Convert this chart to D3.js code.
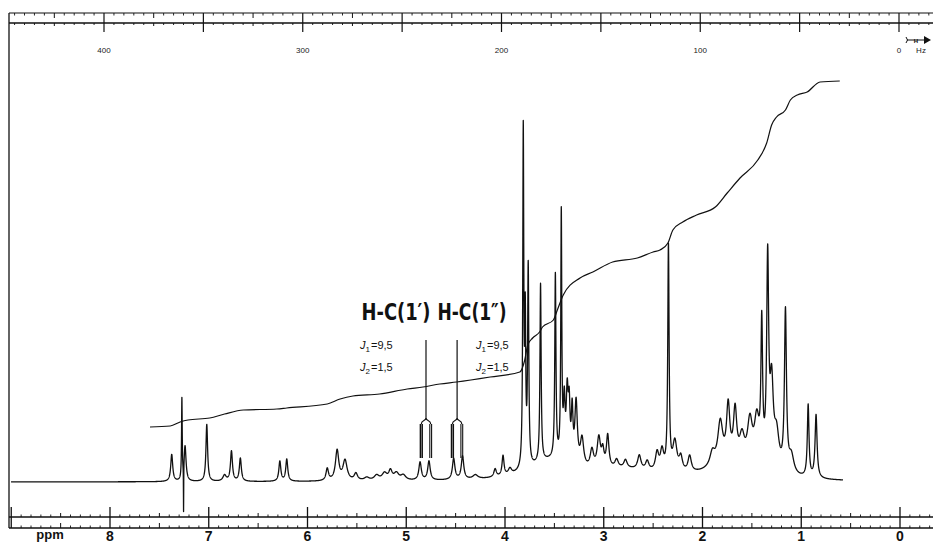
<!DOCTYPE html>
<html>
<head>
<meta charset="utf-8">
<script src="https://cdn.jsdelivr.net/npm/d3@7"></script>
<style>
  html, body { margin: 0; padding: 0; background: #fff; }
  svg { display: block; }
</style>
</head>
<body>
<svg id="chart" width="933" height="543"></svg>
<script>
// ---------------- DATA ----------------
const ppmTicks = [8, 7, 6, 5, 4, 3, 2, 1, 0];
const ppmTickLabels = ["8", "7", "6", "5", "4", "3", "2", "1", "0"];
const hzTicks = [400, 300, 200, 100, 0];
const hzTickLabels = ["400", "300", "200", "100", "0"];

// peak table: position (ppm), height (arb. units), half width (ppm)
const peakPpm = [7.375, 7.272, 7.24, 7.255, 7.02, 6.84, 6.77, 6.68, 6.28, 6.21,
  5.80, 5.70, 5.62, 5.51, 5.40, 5.30, 5.22, 5.16, 5.10, 5.03,
  4.86, 4.77, 4.52, 4.43, 4.30, 4.10, 4.02, 3.95,
  3.815, 3.795, 3.765, 3.64, 3.49, 3.43, 3.40, 3.37, 3.35, 3.32, 3.28, 3.22,
  3.12, 3.05, 3.01, 2.96, 2.87, 2.78, 2.64, 2.56, 2.46, 2.41,
  2.345, 2.28, 2.22, 2.13, 1.90, 1.82, 1.74, 1.67, 1.60, 1.52, 1.45,
  1.40, 1.34, 1.30, 1.25, 1.16, 1.10, 0.93, 0.85,
  3.55, 2.80, 1.70];
const peakHeight = [27, 80, 35, -48, 57, 6, 30, 23, 20, 22,
  12, 30, 20, 7, 3, 5, 7, 9, 7, 5,
  18, 19, 21, 23, 4, 8, 20, 6,
  335, 140, 198, 178, 184, 244, 55, 65, 50, 50, 62, 28,
  18, 30, 16, 32, 8, 8, 14, 9, 18, 20,
  224, 30, 14, 16, 14, 42, 55, 50, 25, 42, 45,
  135, 202, 80, 35, 160, 18, 72, 63,
  18, 10, 14];
const peakWidth = [0.012, 0.004, 0.012, 0.0015, 0.01, 0.02, 0.012, 0.012, 0.012, 0.012,
  0.015, 0.02, 0.025, 0.02, 0.03, 0.03, 0.03, 0.02, 0.03, 0.03,
  0.015, 0.015, 0.015, 0.015, 0.03, 0.015, 0.012, 0.02,
  0.006, 0.006, 0.007, 0.007, 0.007, 0.006, 0.01, 0.012, 0.01, 0.01, 0.015, 0.02,
  0.02, 0.02, 0.015, 0.015, 0.02, 0.02, 0.02, 0.02, 0.02, 0.02,
  0.008, 0.025, 0.02, 0.02, 0.03, 0.03, 0.02, 0.02, 0.03, 0.03, 0.03,
  0.01, 0.012, 0.02, 0.03, 0.012, 0.03, 0.01, 0.012,
  0.25, 0.4, 0.3];

// integral trace
const integralPpm = [7.595, 7.39, 7.29, 7.21, 6.99, 6.84, 6.65, 6.31, 6.21, 5.80, 5.67, 5.54, 5.27,
  4.99, 4.83, 4.66, 4.49, 4.15, 3.85, 3.80, 3.77, 3.72, 3.65, 3.62, 3.51, 3.47, 3.41,
  3.24, 3.11, 2.91, 2.66, 2.50, 2.43, 2.35, 2.30, 2.20, 2.06, 1.87, 1.75, 1.62, 1.44,
  1.35, 1.30, 1.25, 1.16, 1.11, 1.04, 0.94, 0.81, 0.61];
const integralValue = [55, 56, 60, 62, 64, 68, 72, 73, 74, 78, 83, 86, 88,
  93, 95, 98, 100, 105, 110, 122, 137, 144, 150, 155, 162, 172, 187,
  204, 210, 220, 224, 230, 232, 239, 252, 260, 267, 275, 289, 304, 322,
  339, 357, 365, 372, 382, 387, 390, 400, 401];

// annotations
const multipletLabels = ["H-C(1\u2032)", "H-C(1\u2033)"];
const multipletPpm = [4.80, 4.485];
const couplingJ1 = [9.5, 9.5];
const couplingJ2 = [1.5, 1.5];
const couplingJ1Text = ["9,5", "9,5"];
const couplingJ2Text = ["1,5", "1,5"];

// ---------------- SCALES ----------------
const svg = d3.select("#chart");
const W = 933, H = 543;
const x = d3.scaleLinear().domain([0, 8]).range([900, 110]);
const xHz = d3.scaleLinear().domain([0, 400]).range([899, 104]);
const y = d3.scaleLinear().domain([0, 400]).range([482, 82]);

svg.append("rect").attr("width", W).attr("height", H).attr("fill", "#fff");

const ink = "#111";

// ---------------- FRAME / AXES ----------------
const leftX = 9;
svg.append("line").attr("x1", leftX).attr("x2", leftX).attr("y1", 13).attr("y2", 528)
  .attr("stroke", ink).attr("stroke-width", 1.3);

[13, 23].forEach(yy => svg.append("line").attr("x1", leftX).attr("x2", W).attr("y1", yy).attr("y2", yy)
  .attr("stroke", ink).attr("stroke-width", yy === 23 ? 1.6 : 1.2));
[517, 528].forEach(yy => svg.append("line").attr("x1", leftX).attr("x2", W).attr("y1", yy).attr("y2", yy)
  .attr("stroke", ink).attr("stroke-width", 1.3));

// Hz ticks every 5 Hz
const hzAll = d3.range(-20, 461, 5);
const gHz = svg.append("g").attr("stroke", ink);
hzAll.forEach(h => {
  const xx = xHz(h);
  if (xx < leftX || xx > W) return;
  if (h % 50 === 0) {
    gHz.append("line").attr("x1", xx).attr("x2", xx).attr("y1", 13).attr("y2", 32).attr("stroke-width", 1.2);
  } else if (h % 25 === 0) {
    gHz.append("line").attr("x1", xx).attr("x2", xx).attr("y1", 13).attr("y2", 18).attr("stroke-width", 1);
    gHz.append("line").attr("x1", xx).attr("x2", xx).attr("y1", 23).attr("y2", 26).attr("stroke-width", 1);
  } else {
    gHz.append("line").attr("x1", xx).attr("x2", xx).attr("y1", 13).attr("y2", 15.5).attr("stroke-width", 0.9);
    gHz.append("line").attr("x1", xx).attr("x2", xx).attr("y1", 23).attr("y2", 25).attr("stroke-width", 0.9);
  }
});
svg.append("g").selectAll("text").data(hzTicks).join("text")
  .attr("x", d => xHz(d)).attr("y", 53)
  .attr("text-anchor", "middle")
  .attr("font-family", "'Liberation Sans', Arial, sans-serif")
  .attr("font-size", 8).attr("fill", "#222")
  .text((d, i) => hzTickLabels[i]);
svg.append("text").attr("x", 921).attr("y", 53).attr("text-anchor", "middle")
  .attr("font-family", "'Liberation Sans', Arial, sans-serif").attr("font-size", 8).attr("fill", "#222").text("Hz");
// field sweep arrow
svg.append("path").attr("d", "M906,37 Q909,40 906,43 M907,40 H927").attr("fill", "none").attr("stroke", ink).attr("stroke-width", 1);
svg.append("path").attr("d", "M924,36 L931,40 L924,44 Z").attr("fill", ink);
svg.append("text").attr("x", 916).attr("y", 42.5).attr("text-anchor", "middle")
  .attr("font-family", "'Liberation Sans', Arial, sans-serif").attr("font-size", 6).attr("font-weight", "bold").attr("fill", ink).text("H");

// ppm ticks every 0.1
const ppmAll = d3.range(-3, 91).map(i => i / 10);
const gP = svg.append("g").attr("stroke", ink);
ppmAll.forEach(p => {
  const xx = x(p);
  if (xx < leftX || xx > W) return;
  const k = Math.round(p * 10);
  if (k % 10 === 0) {
    gP.append("line").attr("x1", xx).attr("x2", xx).attr("y1", 507).attr("y2", 528).attr("stroke-width", 1.3);
  } else if (k % 5 === 0) {
    gP.append("line").attr("x1", xx).attr("x2", xx).attr("y1", 513).attr("y2", 517).attr("stroke-width", 1);
    gP.append("line").attr("x1", xx).attr("x2", xx).attr("y1", 523).attr("y2", 528).attr("stroke-width", 1);
  } else {
    gP.append("line").attr("x1", xx).attr("x2", xx).attr("y1", 514.5).attr("y2", 517).attr("stroke-width", 0.9);
    gP.append("line").attr("x1", xx).attr("x2", xx).attr("y1", 525.5).attr("y2", 528).attr("stroke-width", 0.9);
  }
});
svg.append("g").selectAll("text").data(ppmTicks).join("text")
  .attr("x", d => x(d)).attr("y", 540.5)
  .attr("text-anchor", "middle")
  .attr("font-family", "'Liberation Sans', Arial, sans-serif")
  .attr("font-weight", "bold").attr("font-size", 14).attr("fill", ink)
  .text((d, i) => ppmTickLabels[i]);
svg.append("text").attr("x", 50).attr("y", 539).attr("text-anchor", "middle")
  .attr("font-family", "'Liberation Sans', Arial, sans-serif")
  .attr("font-weight", "bold").attr("font-size", 13).attr("fill", ink).text("ppm");

// ---------------- SPECTRUM ----------------
function intensity(p) {
  let s = 0;
  for (let i = 0; i < peakPpm.length; i++) {
    const d = p - peakPpm[i], g = peakWidth[i];
    s += peakHeight[i] * g * g / (d * d + g * g);
  }
  return s;
}
const pStart = x.invert(11), pEnd = x.invert(843);
let samples = d3.range(pEnd, pStart, 0.001).concat(peakPpm.filter(p => p > pEnd && p < pStart));
samples.sort((a, b) => b - a);
const spec = samples.map(p => [p, intensity(p)]);
svg.append("path").datum(spec)
  .attr("d", d3.line().x(d => x(d[0])).y(d => y(d[1])))
  .attr("fill", "none").attr("stroke", ink).attr("stroke-width", 1.3).attr("stroke-linejoin", "round");

// ---------------- INTEGRAL ----------------
const integ = integralPpm.map((p, i) => [x(p), y(integralValue[i])]);
svg.append("path").datum(integ)
  .attr("d", d3.line().curve(d3.curveMonotoneX)(integ))
  .attr("fill", "none").attr("stroke", ink).attr("stroke-width", 1.2);

// ---------------- MULTIPLET ANNOTATIONS ----------------
const MHz = 100;
multipletPpm.forEach((c, i) => {
  const cx = x(c);
  const half = x(c - couplingJ1[i] / 2 / MHz) - cx;
  const sub = Math.max(0.9, x(c - couplingJ2[i] / 2 / MHz) - cx);
  const yTop = y(142), yStemEnd = y(64), yArm = y(58), yBot = y(24);
  const g = svg.append("g").attr("stroke", ink).attr("fill", "none");
  g.append("line").attr("x1", cx).attr("x2", cx).attr("y1", yTop).attr("y2", yStemEnd).attr("stroke-width", 1.2);
  [-1, 1].forEach(s => {
    const bx = cx + s * half;
    g.append("path").attr("d", `M${cx},${yStemEnd} C${cx},${yStemEnd + 3} ${bx},${yStemEnd + 2} ${bx},${yArm}`).attr("stroke-width", 1.2);
    [-1, 1].forEach(t => {
      g.append("line").attr("x1", bx + t * sub).attr("x2", bx + t * sub).attr("y1", yArm).attr("y2", yBot)
        .attr("stroke-width", s < 0 ? 1.5 : 1.1);
    });
  });
});

const labelCenters = [396, 472];
multipletLabels.forEach((t, i) => {
  svg.append("text").attr("x", labelCenters[i]).attr("y", 320).attr("text-anchor", "middle")
    .attr("font-family", "'Liberation Sans Narrow', 'DejaVu Sans Condensed', 'Liberation Sans', sans-serif")
    .attr("font-weight", "bold").attr("font-size", 23).attr("fill", ink)
    .attr("textLength", 69).attr("lengthAdjust", "spacingAndGlyphs")
    .text(t);
});

const jX = [360, 476];
jX.forEach((jx, i) => {
  [[couplingJ1Text[i], "1", 349], [couplingJ2Text[i], "2", 371]].forEach(([val, idx, by]) => {
    const t = svg.append("text").attr("x", jx).attr("y", by)
      .attr("font-family", "'Liberation Sans Narrow', 'Liberation Sans', Arial, sans-serif")
      .attr("font-size", 11).attr("fill", ink);
    t.append("tspan").attr("font-style", "italic").text("J");
    t.append("tspan").attr("font-size", 8).attr("dy", 3).text(idx);
    t.append("tspan").attr("dy", -3).attr("dx", 1).text("=" + val);
  });
});
</script>
</body>
</html>
